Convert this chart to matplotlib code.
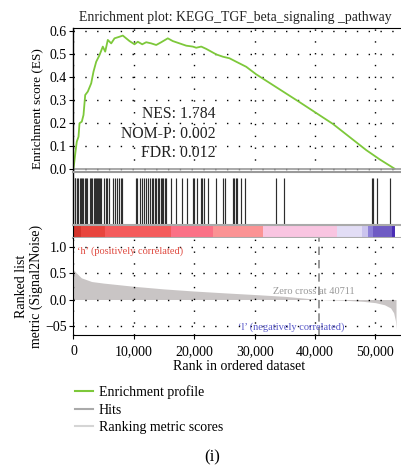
import numpy as np
import matplotlib
matplotlib.use("Agg")
import matplotlib.pyplot as plt
from matplotlib.lines import Line2D

plt.rcParams['font.family'] = ['Liberation Serif', 'DejaVu Serif']

# ---------------- data ----------------
title = "Enrichment plot: KEGG_TGF_beta_signaling _pathway"
n_genes = 53240
zero_cross = 40711

es_rank = [0, 331, 546, 828, 994, 1374, 1656, 1938, 2368, 2931, 3312, 3759, 4306,
           4852, 5250, 5680, 6243, 6790, 7618, 8164, 9274, 10102, 10648, 11377,
           12039, 12867, 13695, 14523, 15616, 16444, 17554, 18663, 19756, 20319,
           21147, 21975, 23631, 24724, 25834, 26943, 28599, 30255, 37430, 42950,
           48470, 50670, 53160]
es_value = [0.0, 0.074, 0.118, 0.139, 0.198, 0.205, 0.234, 0.321, 0.336, 0.372,
            0.423, 0.466, 0.495, 0.532, 0.510, 0.561, 0.546, 0.568, 0.575, 0.580,
            0.556, 0.542, 0.553, 0.542, 0.551, 0.546, 0.539, 0.551, 0.568, 0.556,
            0.546, 0.536, 0.532, 0.527, 0.532, 0.522, 0.498, 0.488, 0.481, 0.466,
            0.444, 0.411, 0.290, 0.195, 0.081, 0.041, 0.0]

hits = [166, 331, 497, 745, 994, 1159, 1325, 1573, 1822, 1987, 2236,
        2732, 2898, 3064, 3312, 3478, 3643, 3809, 3974, 4140, 4306, 4554,
        4968, 5299, 5465, 5879, 6541, 6790, 7121, 7535, 7783, 8032,
        10267, 10516, 10930, 11344, 11592, 11923, 12254, 12586, 12917, 13165,
        13414, 13662, 13910, 14159, 14407, 14573, 14821, 15070, 15318,
        16063, 16891, 17885, 18713, 19706, 19872, 20369, 21031, 21197, 21528,
        22191, 23515, 24674, 25006, 26331, 26496, 26828, 26993, 27656, 28318,
        33451, 34776, 49349, 49514, 50177, 52330]

metric_rank = [0, 500, 1300, 3000, 5000, 10000, 15000, 20000, 25000, 30000,
               35000, 40711, 45000, 48000, 50000, 51500, 52500, 53000, 53300, 53400]
metric_value = [0.56, 0.50, 0.41, 0.34, 0.31, 0.25, 0.20, 0.16, 0.126, 0.094,
                0.06, 0.0, -0.015, -0.035, -0.06, -0.10, -0.16, -0.25, -0.40, -0.56]

band_edges = [0, 1159, 5134, 16063, 23018, 31298, 43553, 47693, 48687, 49514, 52660, 53240]
band_colors = ['#d4342b', '#e8453d', '#f45b5b', '#fb7186', '#fb9394', '#f9c5e1',
               '#e2ddf5', '#cbc4ee', '#8d80d8', '#6f5bc4', '#4a2db5']

stats = ["NES: 1.784", "NOM-P: 0.002", "FDR: 0.012"]
legend_labels = ["Enrichment profile", "Hits", "Ranking metric scores"]
xticks = [0, 10000, 20000, 30000, 40000, 50000]
xticklabels = ["0", "10,000", "20,000", "30,000", "40,000", "50,000"]
es_ticks = [0.0, 0.1, 0.2, 0.3, 0.4, 0.5, 0.6]
metric_ticks = [1.0, 0.5, 0.0, -0.5]
metric_ticklabels = ["1.0", "0.5", "0.0", "\u221205"]

# ---------------- layout ----------------
W, H = 402, 468
fig = plt.figure(figsize=(W / 100, H / 100), dpi=100)

def fa(x0, y0, x1, y1):
    return [x0 / W, (H - y1) / H, (x1 - x0) / W, (y1 - y0) / H]

xmax = 54720
left_px, right_px = 73.5, 404
green = '#7dc83a'
dot = (0, (1, 7.5))
lab_x = (43 - left_px) / (right_px - left_px)

ax1 = fig.add_axes(fa(left_px, 28, right_px, 172))
ax2 = fig.add_axes(fa(left_px, 172, right_px, 225))
ax3 = fig.add_axes(fa(left_px, 225, right_px, 238))
ax4 = fig.add_axes(fa(left_px, 238, right_px, 335))

# ES panel
ax1.plot(es_rank, es_value, color=green, lw=1.3)
ax1.axhline(0, color='#999999', lw=1.2)
ax1.set_xlim(0, xmax)
ax1.set_ylim(-0.0144, 0.613)
ax1.set_yticks(es_ticks)
ax1.set_yticklabels([f"{t:.1f}" for t in es_ticks], fontsize=10)
ax1.set_xticks(xticks)
ax1.tick_params(axis='x', length=0, labelbottom=False)
ax1.tick_params(axis='y', length=3, width=0.8, pad=2)
ax1.grid(True, color='black', linestyle=dot, lw=1.0)
ax1.set_ylabel("Enrichment score (ES)", fontsize=9.5)
ax1.yaxis.set_label_coords(lab_x, 0.44)
ax1.spines['right'].set_visible(False)
ax1.spines['bottom'].set_color('#999999')
ax1.spines['left'].set_linewidth(1.0)
for i, s in enumerate(stats):
    ax1.text(216 / W, (H - (114 + 19.5 * i)) / H, s, transform=fig.transFigure,
             ha='right', va='center', fontsize=11.3, color='#222222')
ax1.set_title(title, fontsize=9.9, pad=5, x=(235 - left_px) / (right_px - left_px),
              color='#222222')

# hits panel
ax2.vlines(hits, 0.0, 0.88, color='#2e2e2e', lw=0.85)
ax2.set_xlim(0, xmax)
ax2.set_ylim(-0.01, 1)
ax2.set_xticks([])
ax2.set_yticks([])
for s in ['right', 'bottom']:
    ax2.spines[s].set_visible(False)
ax2.spines['top'].set_color('#999999')
ax2.spines['top'].set_linewidth(1.5)
ax2.spines['left'].set_linewidth(1.0)

# colour band
for i, c in enumerate(band_colors):
    ax3.axvspan(band_edges[i], band_edges[i + 1], color=c, lw=0)
ax3.set_xlim(0, xmax)
ax3.set_ylim(0, 1)
ax3.set_xticks([])
ax3.set_yticks([])
ax3.spines['right'].set_visible(False)
ax3.spines['top'].set_color('#aaaaaa')
ax3.spines['bottom'].set_color('#aaaaaa')
ax3.spines['top'].set_linewidth(1.5)
ax3.spines['bottom'].set_linewidth(1.5)

# metric panel
ax4.fill_between(metric_rank, metric_value, 0, color='#c9c5c5', lw=0)
ax4.axvline(zero_cross, color='#888888', lw=1.2, ls=(0, (5, 3)))
ax4.set_xlim(0, xmax)
ax4.set_ylim(-0.671, 1.163)
ax4.set_yticks(metric_ticks)
ax4.set_yticklabels(metric_ticklabels, fontsize=10)
ax4.set_xticks(xticks)
ax4.set_xticklabels(xticklabels, fontsize=10)
ax4.tick_params(axis='both', length=3, width=0.8, pad=2)
ax4.tick_params(axis='x', pad=4)
ax4.grid(True, color='black', linestyle=dot, lw=1.0)
ax4.spines['right'].set_visible(False)
ax4.spines['top'].set_visible(False)
ax4.set_xlabel("Rank in ordered dataset", fontsize=10, labelpad=2)
ax4.set_ylabel("Ranked list\nmetric (Signal2Noise)", fontsize=10, linespacing=1.15)
ax4.yaxis.set_label_coords(lab_x, 0.5)
ax4.text(77 / W, (H - 251) / H, "\u2018h\u2019 (positively correlated)", transform=fig.transFigure,
         ha='left', va='center', fontsize=7.5, color='#e04a40')
ax4.text(314 / W, (H - 292) / H, "Zero cross at 40711", transform=fig.transFigure,
         ha='center', va='center', fontsize=7.5, color='#999999')
ax4.text(238 / W, (H - 327) / H, "\u2018l\u2019 (negatively correlated)", transform=fig.transFigure,
         ha='left', va='center', fontsize=7.5, color='#5555c8')

# legend
handles = [Line2D([], [], color=green, lw=1.5),
           Line2D([], [], color='#aaaaaa', lw=1.5),
           Line2D([], [], color='#d5d5d5', lw=1.5)]
fig.legend(handles, legend_labels, loc='upper left',
           bbox_to_anchor=(69 / W, (H - 380) / H), frameon=False, fontsize=10,
           handlelength=1.35, handletextpad=0.4, labelspacing=0.3, borderaxespad=0)

fig.text(212 / W, (H - 457) / H, "(i)", ha='center', va='center', fontsize=12)

fig.savefig("out.png", dpi=100)
